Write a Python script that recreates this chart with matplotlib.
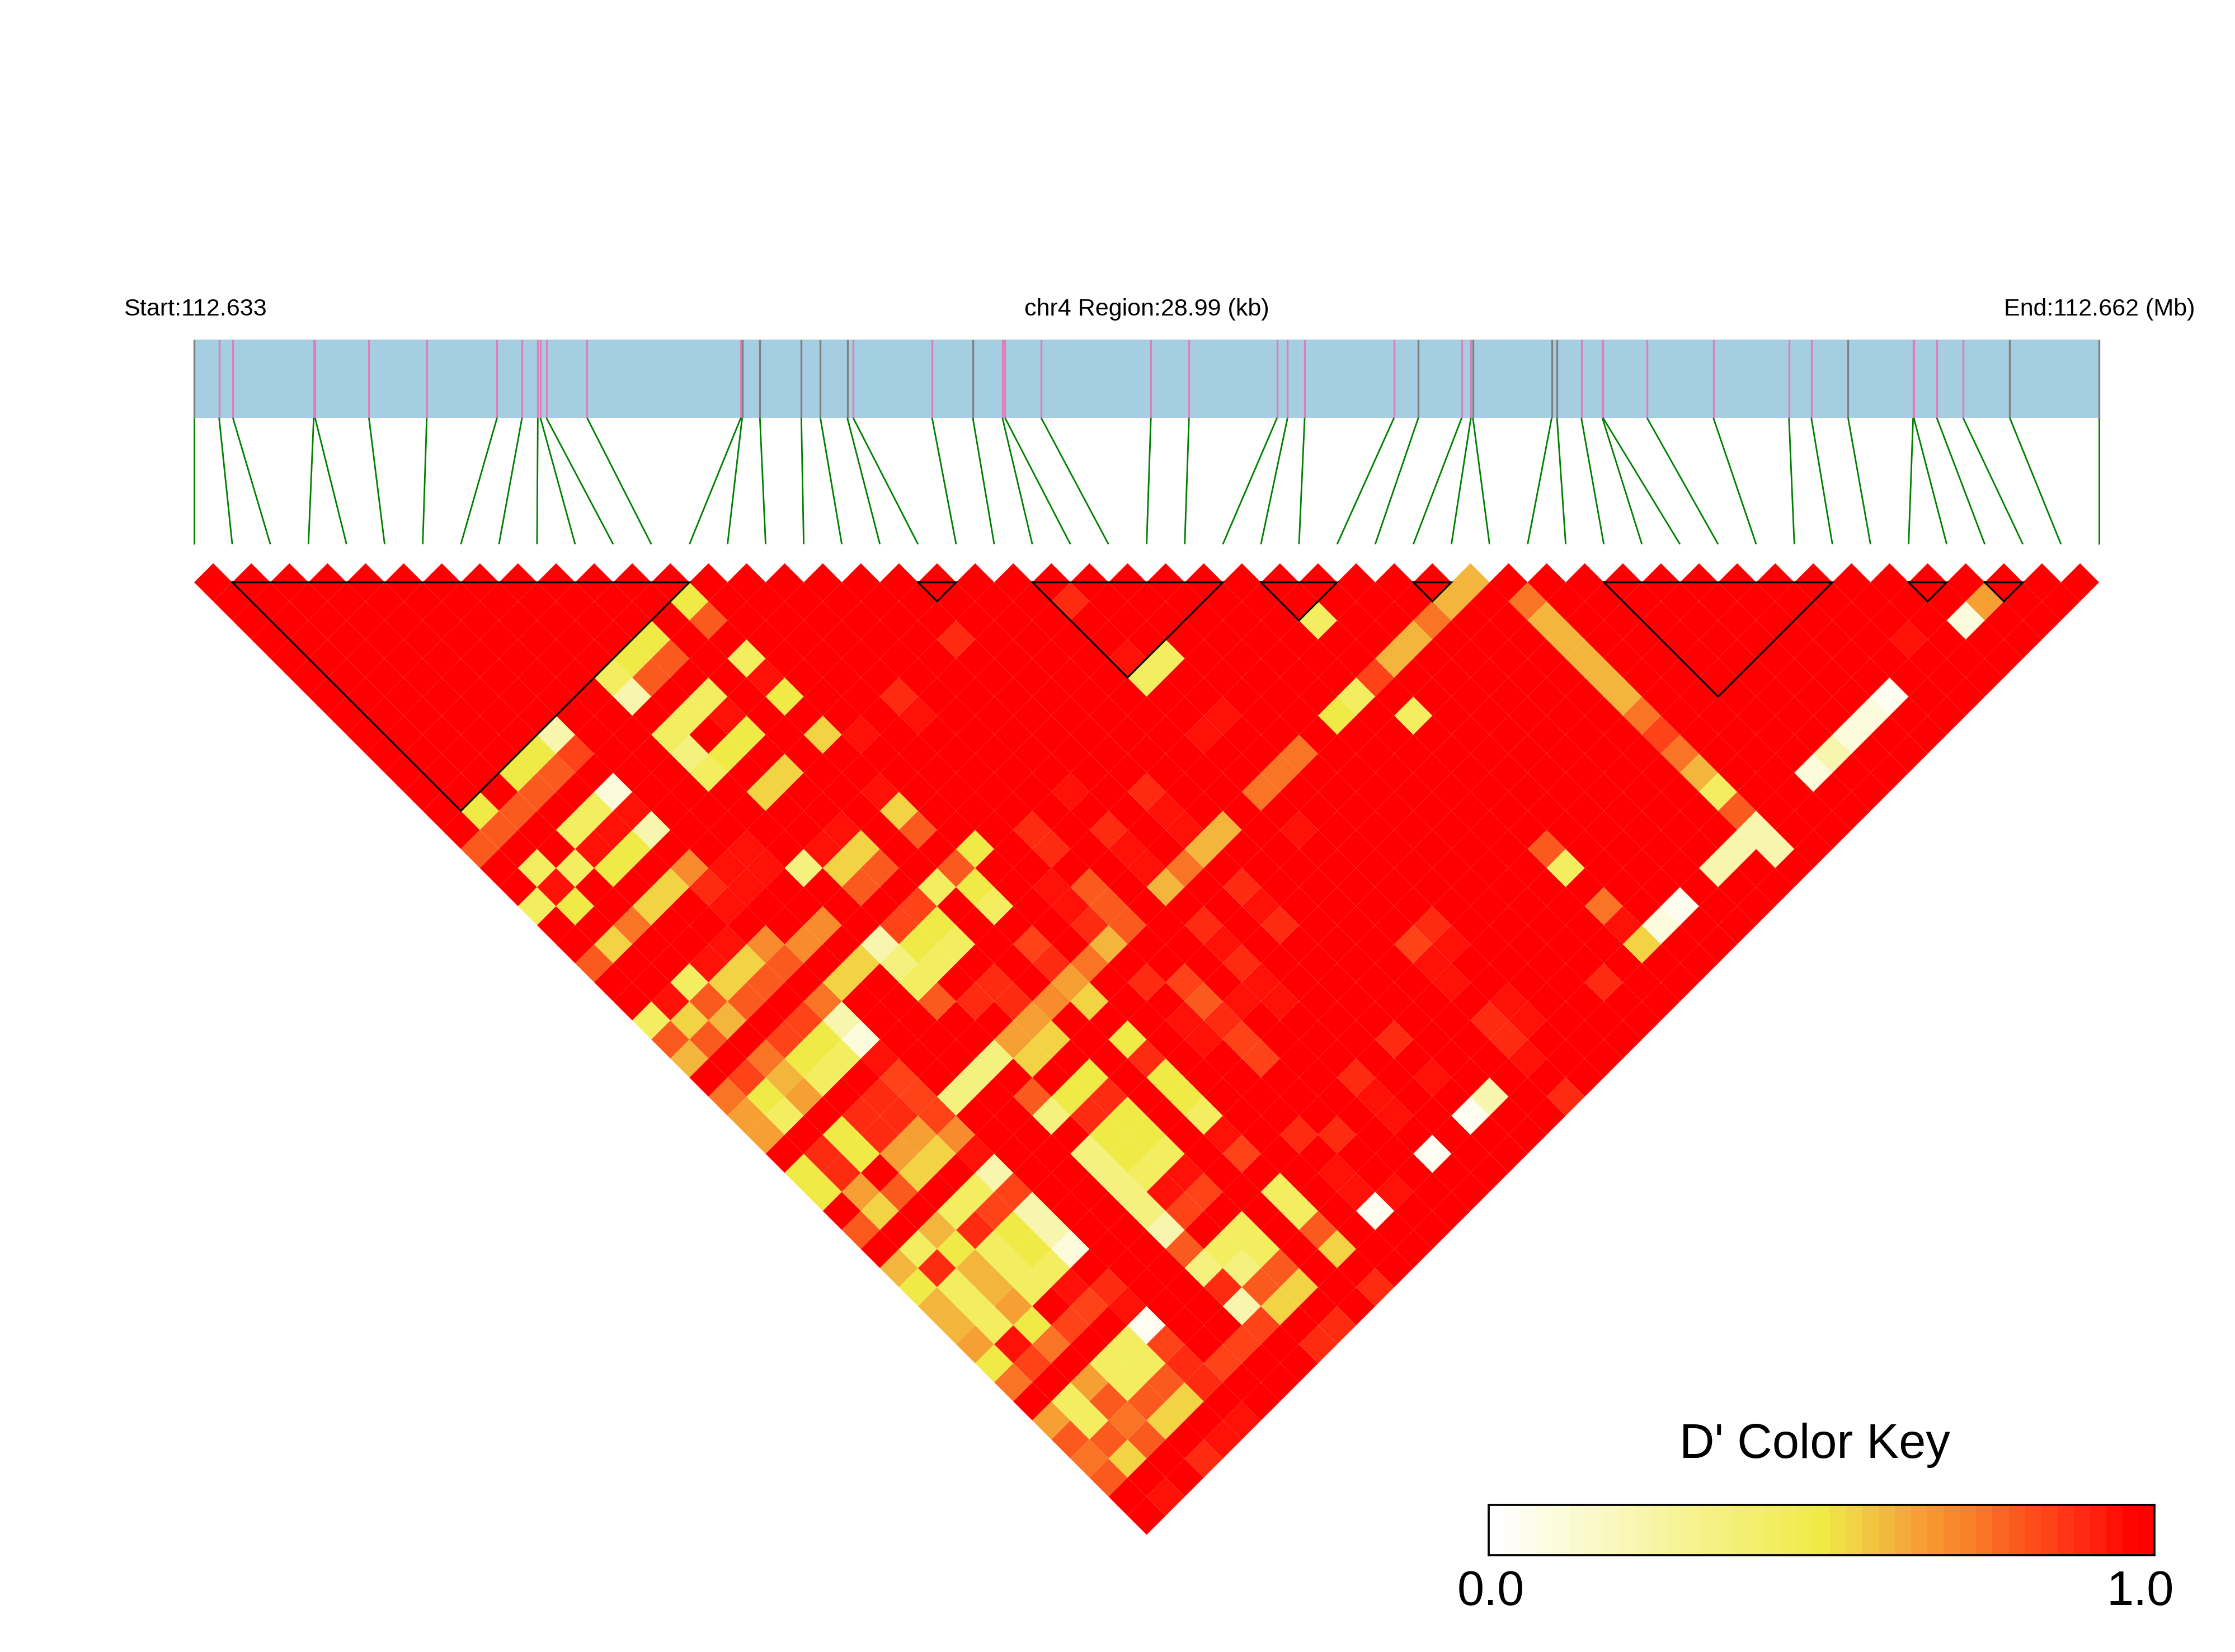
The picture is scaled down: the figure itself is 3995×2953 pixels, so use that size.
import numpy as np
import matplotlib
matplotlib.use("Agg")
import matplotlib.pyplot as plt
from matplotlib.collections import PolyCollection
from matplotlib.colors import LinearSegmentedColormap

plt.rcParams["font.family"] = ["Liberation Sans", "DejaVu Sans"]

W, H = 3995, 2953

###
# SNP positions along the region, in kb from the start
snp_kb = [0, 0.38, 0.59, 1.82, 1.84, 2.66, 3.54, 4.61, 4.99, 5.23, 5.27, 5.36, 5.98,
          8.32, 8.34, 8.61, 9.24, 9.53, 9.94, 10.03, 11.23, 11.85, 12.30, 12.34, 12.89,
          14.56, 15.14, 16.48, 16.64, 16.90, 18.26, 18.63, 19.29, 19.43, 19.46,
          20.66, 20.74, 21.11, 21.43, 21.44, 22.11, 23.12, 24.27, 24.61, 25.17,
          26.16, 26.17, 26.52, 26.92, 27.63, 28.99]
# g = grey tick, p = pink tick
snp_type = "gpppppppppppp" + "pgggggppgppp" + "ppppppgppg" + "ggpppppppgppppgg"
region_kb = 28.99

###
# LD blocks, first and last SNP
blocks = [(1, 13), (19, 20), (22, 27), (28, 30), (32, 33), (37, 43), (45, 46), (47, 48)]

###
# Pairs with D' below 1, as (a + b, b - a - 1) of the two SNPs, grouped by D'
dp_95 = [(30,5),(28,7),(35,8),(38,7),(23,12),(22,13),(21,14),(19,16),(28,17),(29,14),(28,15),(29,16),
         (30,15),(33,14),(34,13),(36,11),(28,19),(27,20),(25,22),(36,25),(41,30),(46,37),(49,38),(43,40),
         (55,44),(54,45),(51,48),(52,23),(54,19),(55,22),(56,21),(57,22),(65,20),(66,19),(66,21),(65,26),
         (63,28),(62,27),(70,25),(70,23),(69,22),(52,31),(51,32),(54,29),(60,31),(61,32),(63,32),(53,24),
         (49,4),(53,8),(54,7),(51,12),(52,13),(49,14),(50,15),(45,16),(46,17),(58,13),(56,17),(46,11),
         (75,18),(90,3)]
dp_90 = [(37,6),(27,16),(40,3),(41,22),(42,21),(43,22),(45,20),(33,30),(34,31),(36,27),(35,28),(37,28),
         (36,29),(41,34),(39,36),(52,41),(53,42),(53,46),(54,37),(50,25),(50,21),(54,23),(48,27),(47,28),
         (53,18),(57,18),(63,24),(61,26),(68,23),(69,24),(58,29),(60,29),(72,27),(48,37),(55,20),(65,18),
         (62,37),(46,1),(44,13),(45,14),(48,13),(50,11),(55,16),(47,18),(74,21),(60,39),(59,40)]
dp_85 = [(20,9),(38,17),(37,18),(32,23),(31,24),(29,26),(37,26),(38,27),(39,28),(43,32),(42,33),(44,19),
         (62,5),(64,19),(77,8),(47,38),(46,39),(44,41),(51,40),(54,41),(56,39),(55,40),(55,24),(56,25),
         (52,21),(53,32),(52,33),(55,30)]
dp_80 = [(27,2),(25,4),(24,5),(19,10),(18,11),(17,12),(16,13),(15,14),(35,16),(40,15),(38,13),(36,15),
         (21,20),(30,21),(31,20),(29,22),(27,22),(25,24),(27,24),(39,22),(44,27),(37,32),(35,34),(51,42),
         (48,43),(50,43),(46,45),(48,45),(50,45),(48,47),(52,35),(57,36),(56,37),(49,18),(53,22),(59,34),
         (47,16),(48,17),(81,12),(71,14)]
dp_75 = [(23,18),(33,22),(30,25),(28,27),(45,40),(43,42),(49,44),(47,46),(47,20),(65,2),(58,9),(57,10),
         (56,11),(52,15),(70,1),(76,7),(78,9),(74,17)]
dp_70 = [(26,15),(33,18),(32,19),(30,19),(40,29),(45,22)]
dp_65 = [(44,23),(43,24),(38,29),(37,30),(29,28),(32,27),(30,29),(35,32),(43,38),(41,40),(47,42),(45,44),
         (46,21),(94,1)]
dp_61 = [(28,23),(26,25),(31,26),(39,34),(37,36),(39,38),(41,36),(42,37),(40,39),(48,19),(67,0),(66,1),
         (64,3),(63,4),(54,13),(53,14),(51,16),(71,2),(72,3),(73,4),(74,5),(75,6),(79,10)]
dp_55 = [(33,8),(31,10),(30,11),(25,16),(24,17),(22,19),(35,14),(34,15),(37,12),(29,20),(28,21),(26,23),
         (35,20),(34,21),(39,30),(38,31),(36,33),(45,24),(44,25),(52,43),(51,44),(49,46),(47,22),(60,35),
         (58,37),(57,38),(76,19)]
dp_50 = [(26,1),(24,3),(23,4),(31,6),(29,8),(28,9),(18,9),(17,10),(15,12),(23,14),(22,15),(20,17),
         (38,19),(39,18),(34,29),(35,30),(32,31),(33,32),(40,35),(38,37),(30,27),(32,25),(33,24),(43,34),
         (44,35),(44,39),(42,41),(49,24),(51,26),(52,27),(47,26),(46,27),(49,28),(48,29),(50,29),(49,30),
         (60,7),(41,14),(41,16)]
dp_43 = [(22,5),(29,4),(27,6),(26,7),(25,8),(27,10),(21,12),(20,13),(18,15),(20,15),(18,17),(39,16),
         (26,21),(24,23),(39,20),(38,21),(34,25),(33,26),(31,28),(41,32),(40,33),(38,35),(40,37),(41,38),
         (43,36),(44,37),(45,36),(42,35),(42,39),(49,40),(48,41),(50,41),(49,42),(46,43),(47,44),
         (54,35),(55,34),(56,35),(53,28),(51,30),(50,31),(57,32),(58,33),(51,4),(50,5),(59,2),(61,6),
         (64,7),(42,17),(40,19),(80,11),(72,15)]
dp_35 = [(26,9),(32,15),(37,20),(42,25),(41,26),(40,27),(45,28),(47,30),(48,31),(49,32),(50,33),(53,36),
         (55,36)]
dp_22 = [(23,6),(19,8),(24,13),(36,19),(34,23),(42,31),(44,33),(45,34),(51,34),(55,38),(68,27),(82,13),
         (83,14),(81,14),(80,15),(86,9)]
dp_10 = [(22,11),(35,24),(46,35),(77,18),(88,7),(87,8),(85,10),(93,2)]
dp_04 = [(50,39),(62,33),(65,30),(67,28),(78,17),(89,6)]

levels = [(0.95, dp_95), (0.90, dp_90), (0.85, dp_85), (0.80, dp_80), (0.75, dp_75), (0.70, dp_70),
          (0.65, dp_65), (0.61, dp_61), (0.55, dp_55), (0.50, dp_50), (0.43, dp_43), (0.35, dp_35),
          (0.22, dp_22), (0.10, dp_10), (0.04, dp_04)]

n_snp = len(snp_kb)
dprime = np.ones((n_snp, n_snp))
for value, pairs in levels:
    for mid, lag in pairs:
        assert (mid + lag) % 2 == 1 and mid + lag <= 99 and mid - lag >= 1, (mid, lag)
        a = (mid - lag - 1) // 2
        b = (mid + lag + 1) // 2
        dprime[a, b] = value

cmap = LinearSegmentedColormap.from_list("ld", [
    (0.0, "#FFFFFF"), (0.5, "#F0EB46"), (0.548, "#F2D444"), (0.623, "#F3AF3A"), (0.646, "#F6A235"),
    (0.743, "#FA7A28"), (0.792, "#FB5E20"), (0.882, "#FF3515"), (0.987, "#FF0000"), (1.0, "#FF0000")])

###
# Axes in SNP index units, one unit = 68.1 pixels, y = 0 on the top row of cells
unit = 68.1
x0, y0 = 347.0, 1041.0
fig = plt.figure(figsize=((W + 0.1) / 300, (H + 0.1) / 300), dpi=300, facecolor="white")
ax = fig.add_axes([0, 0, 1, 1])
ax.set_xlim(-x0 / unit, (W - x0) / unit)
ax.set_ylim(-(H - y0) / unit, y0 / unit)
ax.axis("off")

bar_top = (y0 - 607) / unit
bar_bottom = (y0 - 747) / unit
link_end = (y0 - 973) / unit
snp_x = [kb / region_kb * (n_snp - 1) for kb in snp_kb]

ax.fill_between([0, n_snp - 1], bar_bottom, bar_top, color="#A6CEE3", linewidth=0, zorder=1)
for k, x in enumerate(snp_x):
    tick = "#808080" if snp_type[k] == "g" else "#DE7FB8"
    ax.plot([x, x], [bar_bottom, bar_top], color=tick, lw=0.8, solid_capstyle="butt", zorder=2)
    ax.plot([x, k], [bar_bottom, link_end], color="green", lw=0.68, solid_capstyle="butt", zorder=2)

###
# D' cells
verts = []
vals = []
for a in range(n_snp - 1):
    for b in range(a + 1, n_snp):
        cx = (a + b) / 2
        cy = -(b - a - 1) / 2
        verts.append([(cx - 0.5, cy), (cx, cy + 0.5), (cx + 0.5, cy), (cx, cy - 0.5)])
        vals.append(dprime[a, b])
cells = PolyCollection(verts, array=np.array(vals), cmap=cmap, clim=(0, 1), edgecolors="none",
                       antialiaseds=True, zorder=3)
ax.add_collection(cells)

###
# Block outlines
for a, b in blocks:
    ax.plot([a, b, (a + b) / 2, a], [0, 0, -(b - a) / 2, 0], color="black", lw=0.75,
            solid_joinstyle="miter", zorder=4)

###
# Labels
text_y = (y0 - 564) / unit
ax.text((221 - x0) / unit, text_y, "Start:112.633", fontsize=10.35, ha="left", va="baseline")
ax.text((n_snp - 1) / 2, text_y, "chr4 Region:28.99 (kb)", fontsize=10.35, ha="center", va="baseline")
ax.text((3923 - x0) / unit, text_y, "End:112.662 (Mb)", fontsize=10.35, ha="right", va="baseline")

###
# Colour key
cax = fig.add_axes([2661 / W, 1 - 2780 / H, (3851 - 2661) / W, 90 / H])
cax.imshow(np.linspace(0, 1, 41).reshape(1, -1), cmap=cmap, vmin=0, vmax=1, aspect="auto",
           interpolation="nearest")
cax.set_xticks([])
cax.set_yticks([])
for spine in cax.spines.values():
    spine.set_linewidth(0.9)
fig.text(3244 / W, 1 - 2606 / H, "D' Color Key", fontsize=20.8, ha="center", va="baseline")
fig.text(2665 / W, 1 - 2869 / H, "0.0", fontsize=20.8, ha="center", va="baseline")
fig.text(3825 / W, 1 - 2869 / H, "1.0", fontsize=20.8, ha="center", va="baseline")

fig.savefig("out.png", dpi=300, facecolor="white")
